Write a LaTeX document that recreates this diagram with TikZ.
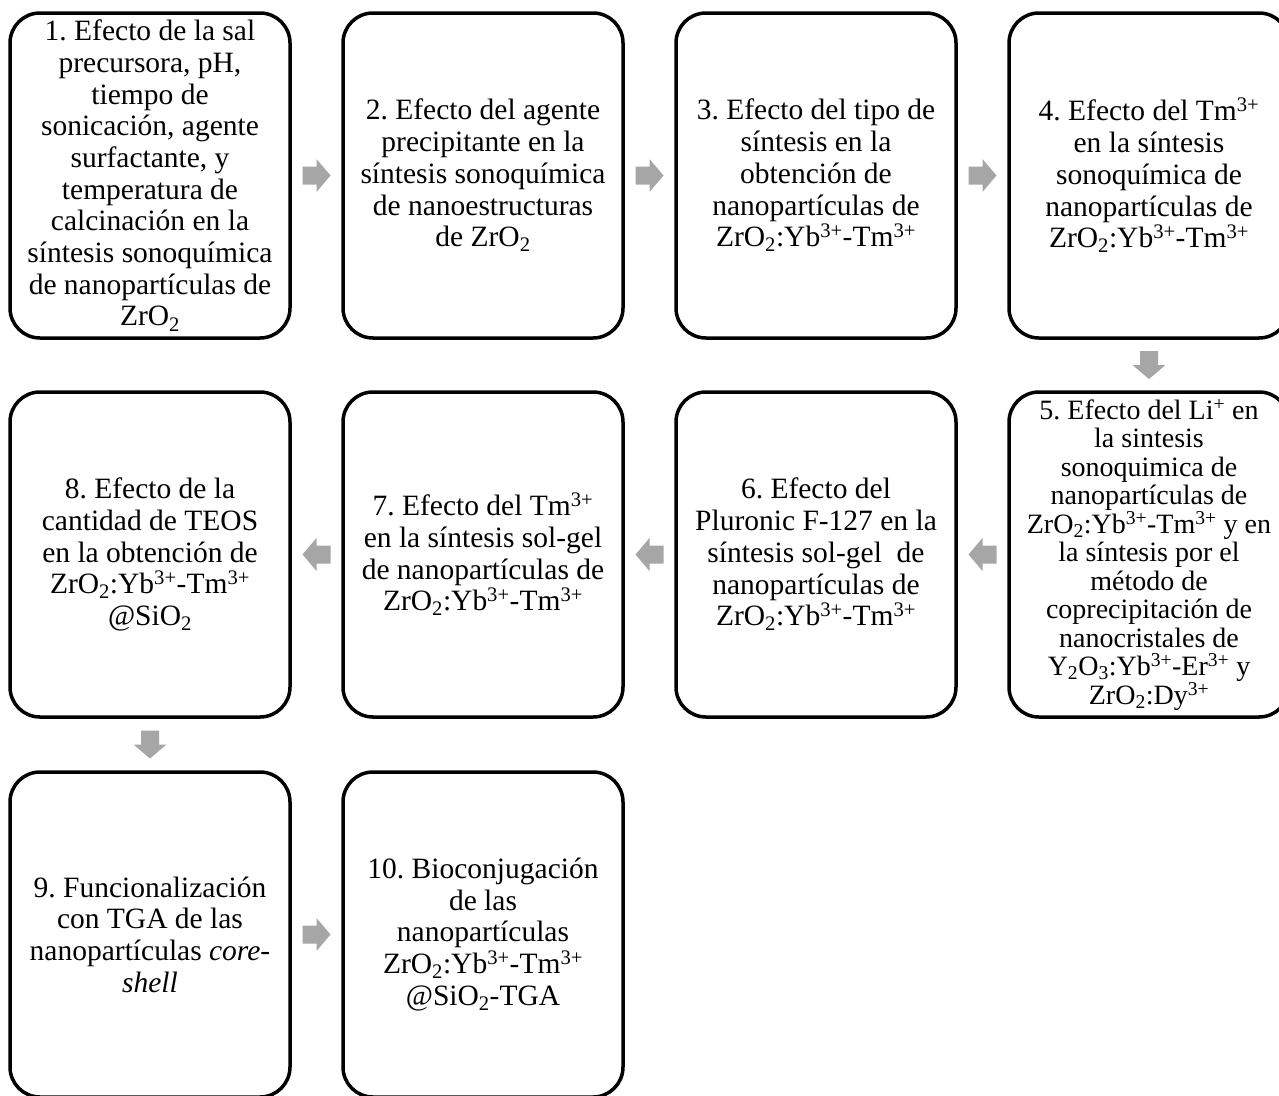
\documentclass[tikz,border=0pt]{standalone}
\usepackage{fontspec}
\setmainfont{Liberation Serif}
\usetikzlibrary{calc}
\definecolor{arrowgray}{RGB}{166,166,166}
\newcommand{\sub}[1]{\textsubscript{#1}}
\newcommand{\sups}[1]{\textsuperscript{#1}}
\begin{document}
\begin{tikzpicture}[x=1pt,y=-1pt,
  stepbox/.style={draw=black, line width=3.5pt, rounded corners=30pt,
    minimum width=280pt, minimum height=325pt, inner sep=0pt, align=center,
    font=\fontsize{29.5}{31.7}\selectfont\frenchspacing},
  tightbox/.style={stepbox, font=\fontsize{28}{28.5}\selectfont\frenchspacing},
  blockarrow/.pic={\fill[arrowgray] (-14,-9) -- (0,-9) -- (0,-16.5) -- (14,0) -- (0,16.5) -- (0,9) -- (-14,9) -- cycle;}
]
\useasboundingbox (0,0) rectangle (1279,1095);
\clip (0,0) rectangle (1279,1095);
\fill[white] (0,0) rectangle (1279,1095);

\node[stepbox] (b1) at (150,175.5) {1. Efecto de la sal\\ precursora, pH,\\ tiempo de\\ sonicación, agente\\ surfactante, y\\ temperatura de\\ calcinación en la\\ síntesis sonoquímica\\ de nanopartículas de\\ ZrO\sub{2}};
\node[stepbox] (b2) at (483,175.5) {2. Efecto del agente\\ precipitante en la\\ síntesis sonoquímica\\ de nanoestructuras\\ de ZrO\sub{2}};
\node[stepbox] (b3) at (816,175.5) {3. Efecto del tipo de\\ síntesis en la\\ obtención de\\ nanopartículas de\\ ZrO\sub{2}:Yb\sups{3+}-Tm\sups{3+}};
\node[stepbox] (b4) at (1149,175.5) {4. Efecto del Tm\sups{3+}\\ en la síntesis\\ sonoquímica de\\ nanopartículas de\\ ZrO\sub{2}:Yb\sups{3+}-Tm\sups{3+}};

\node[tightbox] (b5) at (1149,554.5) {5. Efecto del Li\sups{+} en\\ la sintesis\\ sonoquimica de\\ nanopartículas de\\ ZrO\sub{2}:Yb\sups{3+}-Tm\sups{3+} y en\\ la síntesis por el\\ método de\\ coprecipitación de\\ nanocristales de\\ Y\sub{2}O\sub{3}:Yb\sups{3+}-Er\sups{3+} y\\ ZrO\sub{2}:Dy\sups{3+}};
\node[stepbox] (b6) at (816,554.5) {6. Efecto del\\ Pluronic F-127 en la\\ síntesis sol-gel\ \ de\\ nanopartículas de\\ ZrO\sub{2}:Yb\sups{3+}-Tm\sups{3+}};
\node[stepbox] (b7) at (483,554.5) {7. Efecto del Tm\sups{3+}\\ en la síntesis sol-gel\\ de nanopartículas de\\ ZrO\sub{2}:Yb\sups{3+}-Tm\sups{3+}};
\node[stepbox] (b8) at (150,554.5) {8. Efecto de la\\ cantidad de TEOS\\ en la obtención de\\ ZrO\sub{2}:Yb\sups{3+}-Tm\sups{3+}\\ @SiO\sub{2}};

\node[stepbox] (b9) at (150,934.5) {9. Funcionalización\\ con TGA de las\\ nanopartículas \textit{core-}\\ \textit{shell}};
\node[stepbox] (b10) at (483,934.5) {10. Bioconjugación\\ de las\\ nanopartículas\\ ZrO\sub{2}:Yb\sups{3+}-Tm\sups{3+}\\ @SiO\sub{2}-TGA};

\coordinate (m12) at ($(b1.east)!0.5!(b2.west)$);
\coordinate (m23) at ($(b2.east)!0.5!(b3.west)$);
\coordinate (m34) at ($(b3.east)!0.5!(b4.west)$);
\coordinate (m45) at ($(b4.south)!0.5!(b5.north)$);
\coordinate (m56) at ($(b5.west)!0.5!(b6.east)$);
\coordinate (m67) at ($(b6.west)!0.5!(b7.east)$);
\coordinate (m78) at ($(b7.west)!0.5!(b8.east)$);
\coordinate (m89) at ($(b8.south)!0.5!(b9.north)$);
\coordinate (m910) at ($(b9.east)!0.5!(b10.west)$);

\pic at (m12) {blockarrow};
\pic at (m23) {blockarrow};
\pic at (m34) {blockarrow};
\pic[rotate=-90] at (m45) {blockarrow};
\pic[rotate=180] at (m56) {blockarrow};
\pic[rotate=180] at (m67) {blockarrow};
\pic[rotate=180] at (m78) {blockarrow};
\pic[rotate=-90] at (m89) {blockarrow};
\pic at (m910) {blockarrow};
\end{tikzpicture}
\end{document}
